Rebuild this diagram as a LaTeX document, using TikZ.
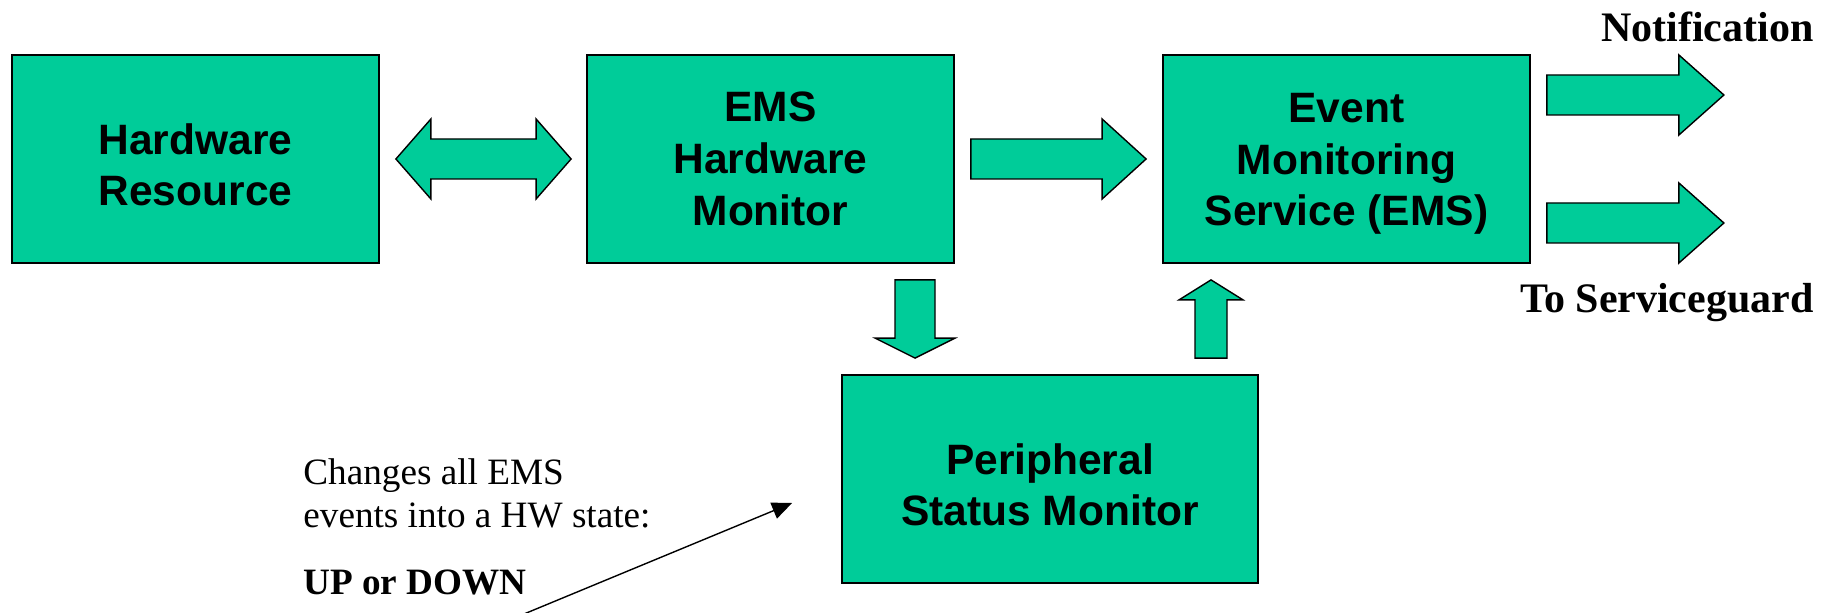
\documentclass[tikz,border=0pt]{standalone}
\usepackage{fontspec}
\setmainfont{Liberation Serif}
\newfontfamily\boxsans{Liberation Sans}
\usetikzlibrary{calc,arrows.meta}
\definecolor{boxgreen}{HTML}{00CC99}
% invisible strut that sets the height of a block's first text line
\newcommand\firstline[1]{\rule{0pt}{#1}}

\begin{document}
\begin{tikzpicture}[x=0.5pt,y=-0.5pt,
  box/.style={draw, fill=boxgreen, line width=0.9pt, inner sep=0pt,
    minimum width=183.5pt, minimum height=104pt, align=center,
    font=\boxsans\bfseries\fontsize{21.25}{25.85}\selectfont},
  blockarrow/.style={draw, fill=boxgreen, line width=0.7pt, line join=miter},
  sidelabel/.style={inner sep=0pt, font=\bfseries\fontsize{21}{25}\selectfont},
  note/.style={inner sep=0pt, align=left, font=\fontsize{18.6}{21.5}\selectfont},
  pointer/.style={line width=0.7pt, -{Triangle[length=10pt,width=8.5pt]}}]
\useasboundingbox (0,0) rectangle (1838,613);

% main blocks
\node[box] (hr)  at (195.5,159) {\firstline{21.1pt}Hardware\\Resource};
\node[box] (hwm) at (770.5,159) {EMS\\Hardware\\Monitor};
\node[box] (ems) at (1346.5,159) {\firstline{19.7pt}Event\\Monitoring\\Service (EMS)};
\node[box, minimum width=208pt] (psm) at (1050,479) {\firstline{21.1pt}Peripheral\\Status Monitor};

% double block arrow between the resource and the hardware monitor
\coordinate (da) at ($(hr.east)+(16,0)$);
\coordinate (db) at ($(hwm.west)+(-15,0)$);
\draw[blockarrow] (da) -- ($(da)+(35,-40)$) -- ($(da)+(35,-20)$)
  -- ($(db)+(-35,-20)$) -- ($(db)+(-35,-40)$) -- (db)
  -- ($(db)+(-35,40)$) -- ($(db)+(-35,20)$)
  -- ($(da)+(35,20)$) -- ($(da)+(35,40)$) -- cycle;

% rightward block arrow: tail, tip, shaft half width, head half width, head length
\newcommand\rightblock[5]{%
  \draw[blockarrow] ($(#1)+(0,-#3)$) -- ($(#2)+(-#5,-#3)$) -- ($(#2)+(-#5,-#4)$)
    -- (#2) -- ($(#2)+(-#5,#4)$) -- ($(#2)+(-#5,#3)$) -- ($(#1)+(0,#3)$) -- cycle;}

\coordinate (ma) at ($(hwm.east)+(16,0)$);
\coordinate (mb) at ($(ems.west)+(-16,0)$);
\rightblock{ma}{mb}{20}{40}{44}

\coordinate (na) at ($(ems.east)+(16,-64)$);
\coordinate (nb) at ($(ems.east)+(193,-64)$);
\rightblock{na}{nb}{20}{40}{45}

\coordinate (sa) at ($(ems.east)+(16,64)$);
\coordinate (sb) at ($(ems.east)+(193,64)$);
\rightblock{sa}{sb}{20}{40}{45}

% downward block arrow from the hardware monitor to the status monitor
\coordinate (ua) at ($(hwm.south)+(144.5,16)$);
\coordinate (ub) at (ua |- {$(psm.north)+(0,-16)$});
\draw[blockarrow] ($(ua)+(-20,0)$) -- ($(ub)+(-20,-20)$) -- ($(ub)+(-40,-20)$)
  -- (ub) -- ($(ub)+(40,-20)$) -- ($(ub)+(20,-20)$) -- ($(ua)+(20,0)$) -- cycle;

% upward block arrow from the status monitor to the EMS
\coordinate (va) at ($(psm.north)+(161,-16)$);
\coordinate (vb) at (va |- {$(ems.south)+(0,16)$});
\draw[blockarrow] ($(va)+(-16,0)$) -- ($(vb)+(-16,20)$) -- ($(vb)+(-32,20)$)
  -- (vb) -- ($(vb)+(32,20)$) -- ($(vb)+(16,20)$) -- ($(va)+(16,0)$) -- cycle;

% output labels
\node[sidelabel, anchor=base east] (notif) at (1814,42) {Notification};
\node[sidelabel, anchor=base east] (sguard) at (1814,313) {To Serviceguard};

% annotation
\node[note, anchor=base west] (changes) at (303,528) {Changes all EMS\\events into a HW state:};
\node[note, anchor=base west, font=\bfseries\fontsize{18.6}{21.5}\selectfont] (updown) at (303,595) {UP or DOWN};
\coordinate (ptail) at (524,614);
\coordinate (phead) at ($(psm.west)+(-49,24)$);
\draw[pointer] (ptail) -- (phead);
\end{tikzpicture}
\end{document}
